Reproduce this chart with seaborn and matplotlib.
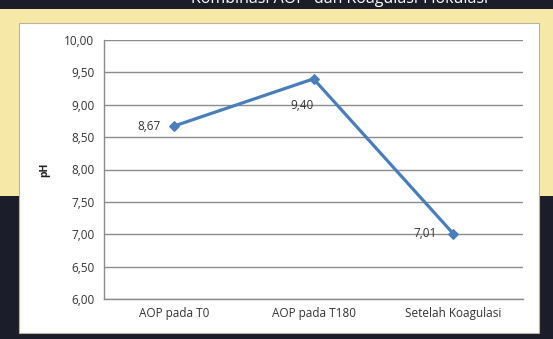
import matplotlib
matplotlib.use("Agg")
import matplotlib.pyplot as plt
import seaborn as sns
import pandas as pd
from matplotlib.patches import Rectangle
from matplotlib.ticker import FixedLocator

# ---- Data ----
categories = ["AOP pada T0", "AOP pada T180", "Setelah Koagulasi"]
ph_values = [8.67, 9.40, 7.01]
y_ticks = [6.0, 6.5, 7.0, 7.5, 8.0, 8.5, 9.0, 9.5, 10.0]
title_text = "Kombinasi AOP  dan Koagulasi-Flokulasi"

df = pd.DataFrame({"kategori": categories, "pH": ph_values})

sns.set_style("white")
plt.rcParams["font.family"] = ["Open Sans", "DejaVu Sans"]

W, H = 553, 339
fig = plt.figure(figsize=(W / 100, H / 100), dpi=100)
fig.patch.set_facecolor("#1b1d2b")

# slide background: yellow band + white chart box
fig.patches.append(Rectangle((0, 1 - 196 / H), 1, (196 - 9) / H, transform=fig.transFigure,
                             facecolor="#f6e8a6", edgecolor="none", zorder=0))
fig.patches.append(Rectangle((19 / W, 1 - 333 / H), (539 - 19) / W, (333 - 23) / H,
                             transform=fig.transFigure, facecolor="white",
                             edgecolor="#b8b39a", linewidth=0.8, zorder=0))

# slide title, cut off at the top edge like in the screenshot
fig.text(340 / W, 1 + 1 / H, title_text, color="white", fontsize=11.5,
         ha="center", va="center")

ax = fig.add_axes([104 / W, 1 - 299 / H, (523 - 104) / W, (299 - 40) / H])
ax.set_facecolor("none")
ax.set_zorder(5)

sns.lineplot(data=df, x="kategori", y="pH", ax=ax, color="#4a7ebb", linewidth=2.3,
             marker="D", markersize=5.5, markeredgecolor="#4a7ebb", sort=False, zorder=3)

ax.set_xlim(-0.5, len(categories) - 0.5)
ax.set_ylim(6.0, 10.0)
ax.set_yticks(y_ticks)
ax.set_yticklabels([f"{v:.2f}".replace(".", ",") for v in y_ticks])
ax.yaxis.grid(True, color="#8c8c8c", linewidth=1)
ax.set_axisbelow(True)

ax.set_xticks(range(len(categories)))
ax.set_xticklabels(categories)
ax.xaxis.set_minor_locator(FixedLocator([i - 0.5 for i in range(len(categories) + 1)]))
ax.tick_params(axis="x", which="major", length=0, pad=6, labelsize=8.5, labelcolor="#333333")
ax.tick_params(axis="x", which="minor", length=4, color="#8c8c8c", direction="out")
ax.tick_params(axis="y", length=4, color="#8c8c8c", direction="out", pad=3,
               labelsize=8.5, labelcolor="#333333")

for side in ["top", "right"]:
    ax.spines[side].set_visible(False)
for side in ["left", "bottom"]:
    ax.spines[side].set_color("#8c8c8c")
    ax.spines[side].set_linewidth(1)

ax.set_xlabel("")
ax.set_ylabel("pH", fontsize=7.5, fontweight="bold", labelpad=10, color="#222222")

# data labels
offsets = [(-9.5, 0), (-8, -19), (-11.5, 0)]
for i, (v, off) in enumerate(zip(ph_values, offsets)):
    ax.annotate(f"{v:.2f}".replace(".", ","), (i, v), xytext=off, textcoords="offset points",
                ha="right" if off[1] == 0 else "center", va="center",
                fontsize=8.5, color="#333333")

fig.savefig("out.png", dpi=100, facecolor=fig.get_facecolor())
